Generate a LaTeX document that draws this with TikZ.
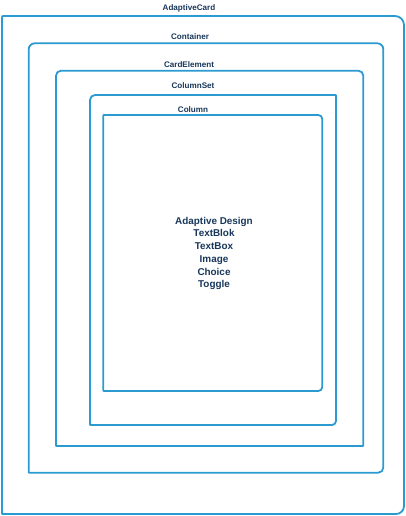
\documentclass[tikz,border=0pt]{standalone}
\usepackage{fontspec}
\setmainfont{Liberation Sans}
\definecolor{boxblue}{RGB}{43,154,209}
\definecolor{textnavy}{RGB}{24,55,90}
\tikzset{
  boxline/.style={draw=boxblue, line width=1.8pt, line join=round},
  lbl/.style={font=\bfseries\fontsize{8.1}{9}\selectfont, text=textnavy, inner sep=0pt},
  centertext/.style={font=\bfseries\fontsize{9.9}{12.7}\selectfont, text=textnavy, align=center, inner sep=0pt}
}
% #1 L, #2 B, #3 R, #4 T, #5 rTL, #6 rTR, #7 rBR, #8 rBL
\newcommand\rrbox[8]{%
  \draw[boxline] ({#1+#8},#2) -- ({#3-#7},#2)
    arc[start angle=-90,end angle=0,radius=#7pt] -- (#3,{#4-#6})
    arc[start angle=0,end angle=90,radius=#6pt] -- ({#1+#5},#4)
    arc[start angle=90,end angle=180,radius=#5pt] -- (#1,{#2+#8})
    arc[start angle=180,end angle=270,radius=#8pt] -- cycle;}
\begin{document}
\begin{tikzpicture}[x=1pt,y=1pt]
  \useasboundingbox (0,0) rectangle (406,516);
  \fill[white] (0,0) rectangle (406,516);
  % AdaptiveCard
  \rrbox{2}{2}{404}{500}{1}{9}{8}{0.5}
  % Container
  \rrbox{28.7}{43.3}{383.3}{472.7}{6}{6}{5}{0.5}
  % CardElement
  \rrbox{56}{70}{363.3}{445.3}{5}{5}{0.5}{0.5}
  % ColumnSet
  \rrbox{90}{91}{336}{421}{5}{0.5}{4}{0.5}
  % Column
  \rrbox{103.3}{125}{322.3}{401}{0.5}{4}{4}{0.5}
  \node[lbl] (lcard) at (189,508) {AdaptiveCard};
  \node[lbl] (lcont) at (190,479.5) {Container};
  \node[lbl] (lelem) at (189,451) {CardElement};
  \node[lbl] (lset) at (193,430) {ColumnSet};
  \node[lbl] (lcol) at (193,406) {Column};
  \node[centertext] (content) at (214,262.5) {Adaptive Design\\TextBlok\\TextBox\\Image\\Choice\\Toggle};
\end{tikzpicture}
\end{document}
